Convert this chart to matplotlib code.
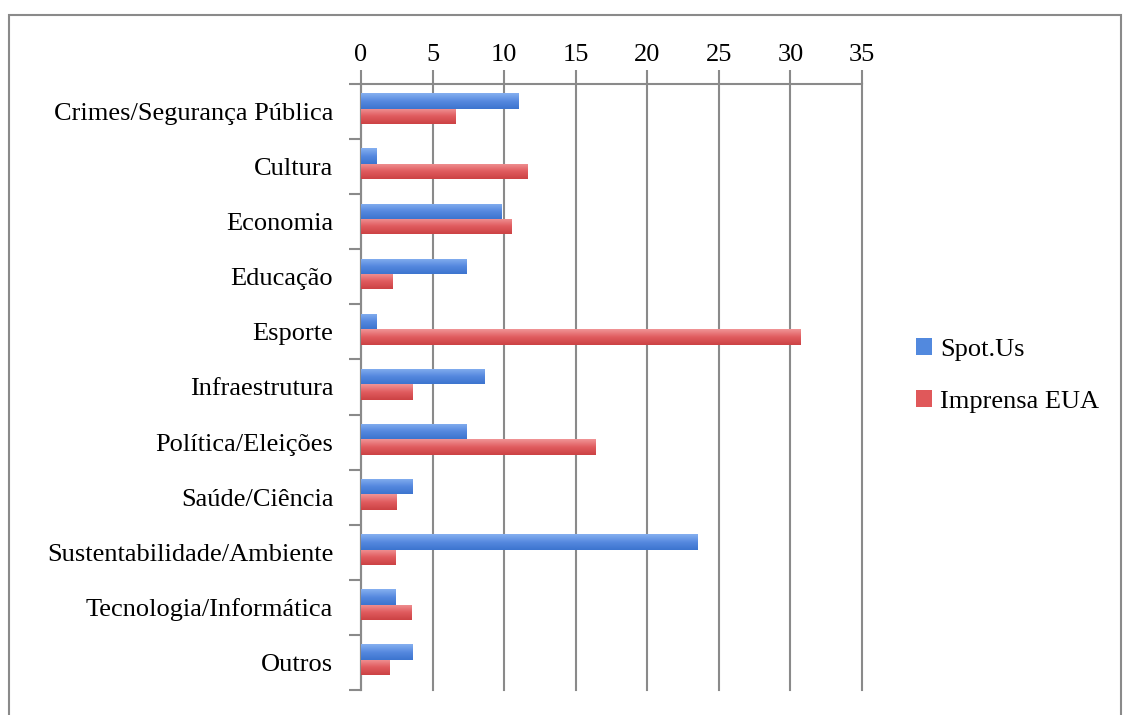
import numpy as np
import matplotlib
matplotlib.use('Agg')
import matplotlib.pyplot as plt
from matplotlib.patches import Rectangle
from matplotlib.colors import LinearSegmentedColormap

# categories, top to bottom
categorias = ['Crimes/Segurança Pública', 'Cultura', 'Economia', 'Educação',
              'Esporte', 'Infraestrutura', 'Política/Eleições', 'Saúde/Ciência',
              'Sustentabilidade/Ambiente', 'Tecnologia/Informática', 'Outros']
spot_us = [11.0, 1.1, 9.8, 7.4, 1.1, 8.6, 7.4, 3.6, 23.5, 2.4, 3.6]
imprensa_eua = [6.6, 11.6, 10.5, 2.2, 30.7, 3.6, 16.4, 2.5, 2.4, 3.5, 2.0]
series_nomes = ['Spot.Us', 'Imprensa EUA']
xticks = [0, 5, 10, 15, 20, 25, 30, 35]

plt.rcParams['font.family'] = ['Liberation Serif', 'DejaVu Serif']
cinza = '#8a8a8a'
fs = 19

fig = plt.figure(figsize=(11.3, 7.15), dpi=100)
ax = fig.add_axes([0.3195, 0.035, 0.4433, 0.8475])

n = len(categorias)
y = np.arange(n)
h = 0.28
b1 = ax.barh(y - h / 2 - 0.05, spot_us, height=h, color='#5289de',
             linewidth=0, label=series_nomes[0], zorder=3)
b2 = ax.barh(y + h / 2 - 0.05, imprensa_eua, height=h, color='#e0585a',
             linewidth=0, label=series_nomes[1], zorder=3)

# light-to-dark vertical gradient on each bar
grad = np.linspace(0, 1, 64).reshape(-1, 1)
cm_azul = LinearSegmentedColormap.from_list('az', ['#86b0f0', '#5689df', '#3c74cf'])
cm_verm = LinearSegmentedColormap.from_list('vm', ['#f09496', '#e05c5f', '#cc4244'])
for bars, cm in [(b1, cm_azul), (b2, cm_verm)]:
    for p in bars:
        x0, y0 = p.get_x(), p.get_y()
        w, hh = p.get_width(), p.get_height()
        im = ax.imshow(grad, cmap=cm, aspect='auto', zorder=4,
                       extent=[x0, x0 + w, y0 + hh, y0], interpolation='bilinear')
        im.set_clip_path(p)

ax.set_ylim(n - 0.5, -0.5)
ax.set_xlim(0, 35)

ax.set_yticks(y)
ax.set_yticklabels(categorias, fontsize=fs)
ax.set_yticks(np.arange(n + 1) - 0.5, minor=True)
ax.tick_params(axis='y', which='major', length=0, pad=20)
ax.tick_params(axis='y', which='minor', length=9, width=1.5, color=cinza, direction='out')

ax.xaxis.tick_top()
ax.set_xticks(xticks)
ax.set_xticklabels([str(t) for t in xticks], fontsize=fs)
ax.tick_params(axis='x', length=10, width=1.5, color=cinza, direction='out', pad=3)
ax.grid(axis='x', color=cinza, linewidth=1.5, zorder=0)
for gl in ax.get_xgridlines():
    gl.set_clip_on(False)

for s in ['right', 'bottom']:
    ax.spines[s].set_visible(False)
for s in ['top', 'left']:
    ax.spines[s].set_color(cinza)
    ax.spines[s].set_linewidth(1.5)

leg = fig.legend(handles=[b1, b2], loc='center left', bbox_to_anchor=(0.79, 0.475),
                 frameon=False, fontsize=fs, handlelength=0.6, handleheight=0.6,
                 handletextpad=0.3, labelspacing=1.1)

# outer chart frame
fig.patches.append(Rectangle((9 / 1130, -0.01), 1112 / 1130, 1 - 15 / 715 + 0.01,
                             transform=fig.transFigure, fill=False,
                             edgecolor=cinza, linewidth=1.5))

fig.savefig('out.png', dpi=100)
